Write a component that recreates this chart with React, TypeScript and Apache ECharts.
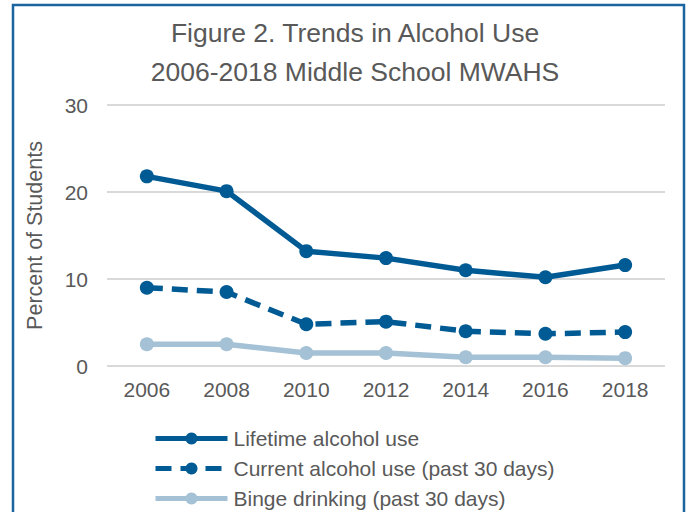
import React, { useEffect, useRef } from "react";
import * as echarts from "echarts";

const years = ["2006", "2008", "2010", "2012", "2014", "2016", "2018"];
const lifetimeUse = [21.8, 20.1, 13.2, 12.4, 11.0, 10.2, 11.6];
const currentUse = [9.0, 8.5, 4.8, 5.1, 4.0, 3.7, 3.9];
const bingeDrinking = [2.5, 2.5, 1.5, 1.5, 1.0, 1.0, 0.9];
const seriesNames = [
  "Lifetime alcohol use",
  "Current alcohol use (past 30 days)",
  "Binge drinking (past 30 days)",
];
const titleLines = ["Figure 2. Trends in Alcohol Use", "2006-2018 Middle School MWAHS"];

const DARK = "#005a94";
const LIGHT = "#a4c1d5";
const GRAY = "#595959";
const FONT = "'Liberation Sans', Arial, sans-serif";

export default function App() {
  const ref = useRef<HTMLDivElement>(null);
  useEffect(() => {
    document.body.style.margin = "0";
    const chart = echarts.init(ref.current!, null, { renderer: "svg" });
    chart.setOption({
      animation: false,
      backgroundColor: "#ffffff",
      textStyle: { fontFamily: FONT },
      title: {
        text: titleLines.join("\n"),
        left: 350,
        textAlign: "center",
        top: 8,
        textStyle: {
          fontFamily: FONT,
          fontSize: 26.5,
          fontWeight: "normal",
          color: GRAY,
          lineHeight: 39,
        },
      },
      graphic: [
        {
          type: "polyline",
          shape: { points: [[13, 512], [13, 5], [684, 5], [684, 512]] },
          style: { stroke: "#1a65a0", lineWidth: 2.5, fill: "none" },
          silent: true,
        },
      ],
      grid: { left: 107, right: 21, top: 105, bottom: 146 },
      legend: {
        orient: "vertical",
        left: 153,
        top: 428,
        height: 90,
        padding: 0,
        itemWidth: 72,
        itemHeight: 15,
        itemGap: 9,
        lineStyle: { width: 5 },
        textStyle: { fontFamily: FONT, fontSize: 21, lineHeight: 20, color: GRAY, padding: [0, 0, 0, 1] },
        data: seriesNames,
      },
      xAxis: {
        type: "category",
        data: years,
        boundaryGap: true,
        axisLine: { show: false },
        axisTick: { show: false },
        axisLabel: { fontFamily: FONT, fontSize: 21, color: GRAY, margin: 13 },
      },
      yAxis: {
        type: "value",
        min: 0,
        max: 30,
        interval: 10,
        name: "Percent of Students",
        nameLocation: "middle",
        nameGap: 61,
        nameTextStyle: { fontFamily: FONT, fontSize: 21.5, color: GRAY },
        axisLine: { show: false },
        axisTick: { show: false },
        axisLabel: { fontFamily: FONT, fontSize: 21, color: GRAY, margin: 19 },
        splitLine: { lineStyle: { color: "#d9d9d9", width: 2 } },
      },
      series: [
        {
          name: seriesNames[0],
          type: "line",
          data: lifetimeUse,
          symbol: "circle",
          symbolSize: 14,
          itemStyle: { color: DARK },
          lineStyle: { color: DARK, width: 5.5 },
        },
        {
          name: seriesNames[1],
          type: "line",
          data: currentUse,
          symbol: "circle",
          symbolSize: 14,
          itemStyle: { color: DARK },
          lineStyle: { color: DARK, width: 5.5, type: [16, 9] },
        },
        {
          name: seriesNames[2],
          type: "line",
          data: bingeDrinking,
          symbol: "circle",
          symbolSize: 14,
          itemStyle: { color: LIGHT },
          lineStyle: { color: LIGHT, width: 5.5 },
        },
      ],
    });
    return () => chart.dispose();
  }, []);
  return <div ref={ref} style={{ width: 686, height: 512 }} />;
}
